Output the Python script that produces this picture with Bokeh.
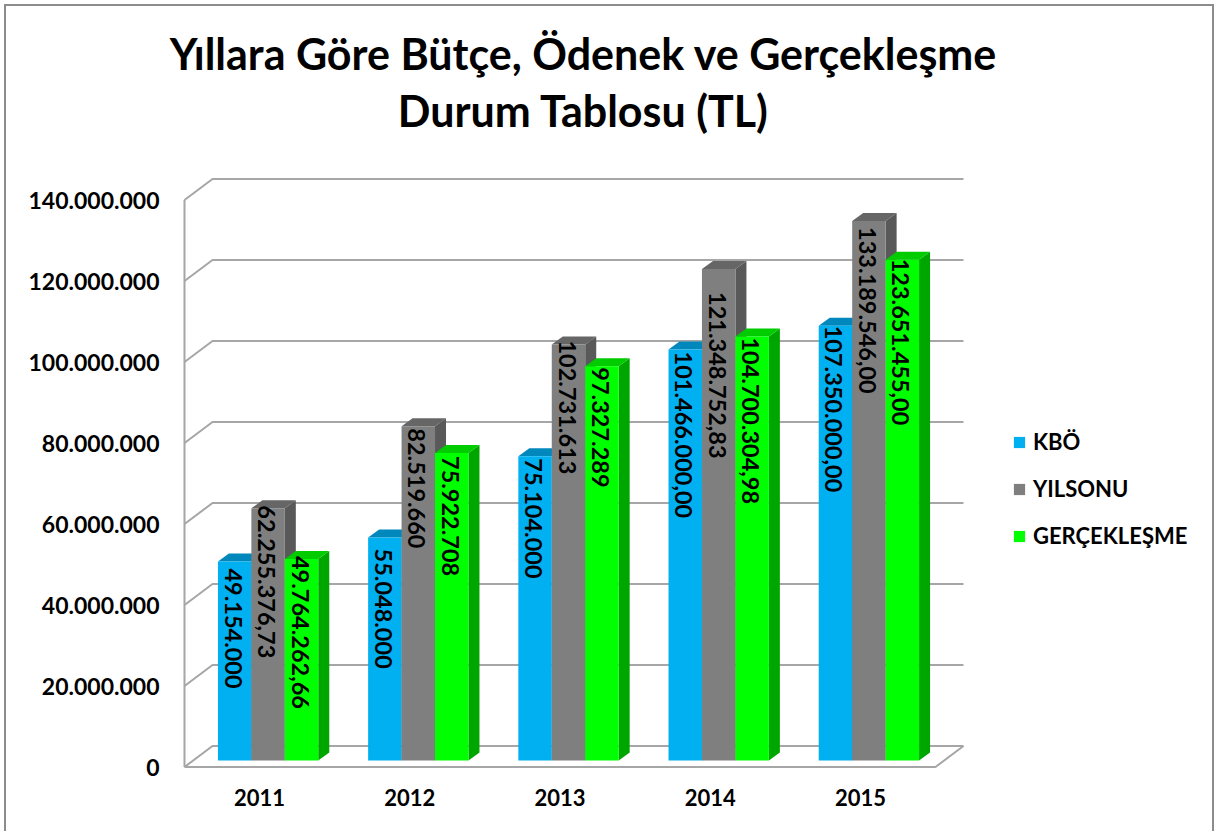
import math
from bokeh.plotting import figure
from bokeh.models import Range1d, FixedTicker, Legend, LegendItem, Label, InlineStyleSheet
from bokeh.core.properties import value
from bokeh.embed import file_html
from bokeh.resources import INLINE

# ---- data ----
years = ["2011", "2012", "2013", "2014", "2015"]
series_names = ["KBÖ", "YILSONU", "GERÇEKLEŞME"]
kbo = [49154000, 55048000, 75104000, 101466000, 107350000]
yilsonu = [62255376.73, 82519660, 102731613, 121348752.83, 133189546]
gerceklesme = [49764262.66, 75922708, 97327289, 104700304.98, 123651455]
kbo_labels = ["49.154.000", "55.048.000", "75.104.000", "101.466.000,00", "107.350.000,00"]
yilsonu_labels = ["62.255.376,73", "82.519.660", "102.731.613", "121.348.752,83", "133.189.546,00"]
gerceklesme_labels = ["49.764.262,66", "75.922.708", "97.327.289", "104.700.304,98", "123.651.455,00"]
tick_values = [0, 20000000, 40000000, 60000000, 80000000, 100000000, 120000000, 140000000]
tick_labels = ["0", "20.000.000", "40.000.000", "60.000.000", "80.000.000", "100.000.000", "120.000.000", "140.000.000"]
title_lines = ["Yıllara Göre Bütçe, Ödenek ve Gerçekleşme", "Durum Tablosu (TL)"]

# ---- styles / layout ----
FONT = "Lato"
colors_front = ["#00B0F0", "#7F7F7F", "#00FF00"]
colors_top = ["#0088BC", "#666666", "#00CC00"]
colors_side = ["#006F9C", "#595959", "#00A600"]
WALL = "#A6A6A6"
W, H = 1215, 831
F_L, F_R, F_T, F_B = 165, 1210, 10, 771      # plot frame, page px
AX_X, AX_Y = 184, 766.5                       # front-left corner of the floor
PX_PER_UNIT = 150.2                           # one category, px
PX_PER_VAL = 81 / 20000000                    # px per TL
WALL_DX = 28 / PX_PER_UNIT
WALL_DY = 21 / PX_PER_VAL
BAR_DX = 11 / PX_PER_UNIT
BAR_DY = 8 / PX_PER_VAL
BAR_W = 33.45 / PX_PER_UNIT
BAR_SHIFT = 8.5 / PX_PER_UNIT
BAR_BASE = 6.5 / PX_PER_VAL
# label start below the bar top, px, per series then per year
label_drop = [[7, 11, 2, 2, 0], [-3, 2, -4, 23, 6], [-3, 3, 1, 1, -1]]

x0 = (F_L - AX_X) / PX_PER_UNIT
x1 = (F_R - AX_X) / PX_PER_UNIT
y0 = (AX_Y - F_B) / PX_PER_VAL
y1 = (AX_Y - F_T) / PX_PER_VAL
N = len(years)

p = figure(width=W, height=H, output_backend="svg", toolbar_location=None,
           x_range=Range1d(x0, x1), y_range=Range1d(y0, y1),
           min_border_left=F_L, min_border_right=W - F_R,
           min_border_top=F_T, min_border_bottom=H - F_B,
           outline_line_color=None)
p.styles = {"position": "absolute", "left": "0px", "top": "0px"}
p.stylesheets = [InlineStyleSheet(css=":host::after{content:'';position:absolute;left:4px;top:4px;"
                                      "right:1px;bottom:0;border:2px solid #8C8C8C;border-bottom:none;"
                                      "pointer-events:none;}")]
p.grid.visible = False

# ---- axes ----
p.yaxis.ticker = FixedTicker(ticks=tick_values)
p.yaxis.major_label_overrides = dict(zip(tick_values, tick_labels))
p.yaxis.major_label_standoff = 0
p.xaxis.ticker = FixedTicker(ticks=[i + 0.5 for i in range(N)])
p.xaxis.major_label_overrides = {i + 0.5: y for i, y in enumerate(years)}
p.xaxis.major_label_standoff = 11
for ax in (p.xaxis, p.yaxis):
    ax.axis_line_color = None
    ax.major_tick_line_color = None
    ax.minor_tick_line_color = None
    ax.major_label_text_font = FONT
    ax.major_label_text_font_style = "bold"
    ax.major_label_text_color = "#000000"
p.xaxis.major_label_text_font_size = "22px"
p.yaxis.major_label_text_font_size = "23px"

# ---- 3D walls ----
xs, ys = [], []
for t in tick_values:
    xs.append([0, WALL_DX, N + WALL_DX])
    ys.append([t, t + WALL_DY, t + WALL_DY])
xs.append([0, 0]); ys.append([0, tick_values[-1]])
xs.append([0, N, N + WALL_DX]); ys.append([0, 0, WALL_DY])
p.multi_line(xs, ys, line_color=WALL, line_width=2)

# ---- bars ----
values = [kbo, yilsonu, gerceklesme]
labels = [kbo_labels, yilsonu_labels, gerceklesme_labels]
legend_items = []
for yi in range(N):
    left0 = yi + 0.5 + BAR_SHIFT - 1.5 * BAR_W
    for si in range(3):
        l = left0 + si * BAR_W
        r = l + BAR_W
        b = BAR_BASE
        t = BAR_BASE + values[si][yi]
        p.patch([r, r + BAR_DX, r + BAR_DX, r], [b, b + BAR_DY, t + BAR_DY, t],
                fill_color=colors_side[si], line_color=None)
        p.patch([l, l + BAR_DX, r + BAR_DX, r], [t, t + BAR_DY, t + BAR_DY, t],
                fill_color=colors_top[si], line_color=None)
        g = p.quad(left=l, right=r, bottom=b, top=t, fill_color=colors_front[si], line_color=None)
        if yi == 0:
            legend_items.append(LegendItem(label=series_names[si], renderers=[g]))

for si in range(3):
    for yi in range(N):
        left0 = yi + 0.5 + BAR_SHIFT - 1.5 * BAR_W
        xc = left0 + (si + 0.5) * BAR_W - 1.5 / PX_PER_UNIT
        ty = BAR_BASE + values[si][yi] - label_drop[si][yi] / PX_PER_VAL
        p.text([xc], [ty], text=[labels[si][yi]], angle=-math.pi / 2,
               text_align="left", text_baseline="middle",
               text_font=value(FONT), text_font_style="bold",
               text_font_size="23.5px", text_color="#000000")

# ---- legend ----
legend = Legend(items=legend_items, location=(1013 - F_L - 1, F_B - 549),
                background_fill_alpha=0, border_line_color=None,
                label_text_font=FONT, label_text_font_style="bold",
                label_text_font_size="22px", label_text_color="#000000",
                glyph_width=14, glyph_height=14, spacing=20, padding=10, margin=0,
                label_standoff=7)
p.add_layout(legend, "center")

# ---- title ----
for line, py in zip(title_lines, (53, 110)):
    p.add_layout(Label(x=(583 - AX_X) / PX_PER_UNIT, y=(AX_Y - py) / PX_PER_VAL, text=line,
                       text_align="center", text_baseline="middle",
                       text_font=FONT, text_font_style="bold",
                       text_font_size="43px", text_color="#000000"))

open("out.html", "w").write(file_html(p, INLINE))
